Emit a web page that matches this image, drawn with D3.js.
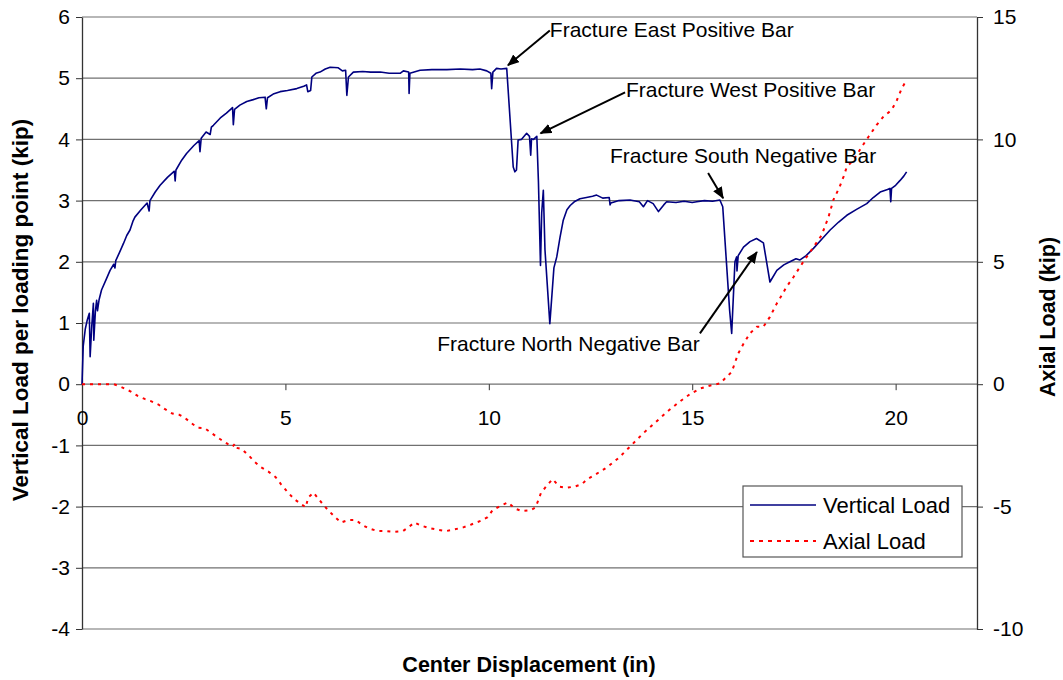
<!DOCTYPE html>
<html><head><meta charset="utf-8">
<script src="https://cdn.jsdelivr.net/npm/d3@7"></script>
<style>
body{margin:0;background:#fff}
text{font-family:"Liberation Sans",Arial,sans-serif;fill:#000}
</style>
</head><body><svg id="c" width="1063" height="680"></svg>
<script>
// ---------- data ----------
const xTicks = [0, 5, 10, 15, 20];
const yLeftTicks = [-4, -3, -2, -1, 0, 1, 2, 3, 4, 5, 6];
const yRightTicks = [-10, -5, 0, 5, 10, 15];

// Vertical load (kip) vs center displacement (in)
const vertDisp = [0,0.03,0.08,0.13,0.18,0.2,0.24,0.28,0.29,0.33,0.36,0.38,0.42,0.48,0.6,0.69,0.78,0.81,0.83,0.92,1.02,1.1,1.18,1.25,1.3,1.45,1.6,1.65,1.67,1.8,1.92,2.1,2.27,2.29,2.31,2.45,2.57,2.75,2.88,2.9,2.93,3.05,3.15,3.18,3.23,3.4,3.55,3.7,3.72,3.75,3.88,4.05,4.21,4.35,4.5,4.53,4.56,4.7,4.87,5.05,5.28,5.45,5.52,5.55,5.62,5.65,5.75,5.85,5.98,6.1,6.3,6.4,6.48,6.51,6.55,6.67,6.9,7.1,7.33,7.55,7.82,7.9,8.03,8.04,8.06,8.31,8.6,8.97,9.3,9.6,9.78,9.95,10.05,10.07,10.1,10.19,10.3,10.44,10.6,10.64,10.68,10.72,10.8,10.93,11.0,11.03,11.05,11.1,11.18,11.22,11.27,11.3,11.34,11.38,11.5,11.6,11.67,11.75,11.83,11.92,12.0,12.1,12.24,12.4,12.55,12.65,12.8,12.96,12.98,13.0,13.2,13.47,13.7,13.8,13.9,14.04,14.17,14.3,14.37,14.6,14.8,15.0,15.11,15.3,15.5,15.68,15.75,15.92,15.97,16.05,16.09,16.1,16.13,16.26,16.42,16.58,16.75,16.91,17.08,17.25,17.4,17.55,17.65,17.8,17.98,18.2,18.39,18.6,18.8,19.05,19.29,19.45,19.62,19.8,19.86,19.88,19.9,20.0,20.11,20.2,20.27];
const vertLoad = [0,0.62,0.9,1.05,1.16,0.45,0.95,1.32,0.72,1.2,1.37,1.2,1.38,1.54,1.72,1.86,1.96,1.9,2.02,2.15,2.3,2.43,2.52,2.66,2.73,2.85,2.96,2.83,3.0,3.14,3.25,3.38,3.48,3.32,3.5,3.66,3.77,3.9,3.98,3.8,4.02,4.12,4.08,4.2,4.23,4.35,4.43,4.52,4.24,4.49,4.56,4.62,4.65,4.68,4.69,4.5,4.68,4.74,4.78,4.8,4.83,4.87,4.89,4.78,4.8,5.02,5.08,5.1,5.15,5.18,5.17,5.12,5.13,4.72,5.02,5.1,5.11,5.1,5.1,5.08,5.08,5.12,5.1,4.75,5.08,5.13,5.14,5.14,5.15,5.14,5.15,5.12,5.08,4.83,5.1,5.16,5.15,5.16,3.55,3.47,3.5,3.99,4.0,4.1,4.05,3.74,4.01,4.0,4.05,3.3,1.94,2.8,3.17,2.2,0.99,1.9,2.08,2.4,2.68,2.85,2.92,2.98,3.03,3.05,3.07,3.09,3.04,3.05,2.93,2.96,3.0,3.01,2.98,2.9,3.0,2.95,2.82,2.93,2.98,2.97,2.99,2.97,2.98,3.0,2.99,3.01,2.9,1.2,0.83,2.0,2.08,1.85,2.1,2.24,2.33,2.38,2.31,1.67,1.86,1.95,2.0,2.05,2.03,2.1,2.22,2.38,2.52,2.65,2.76,2.86,2.95,3.05,3.14,3.18,3.2,2.98,3.2,3.25,3.33,3.4,3.47];

// Axial load (kip) vs center displacement (in)
const axialDisp = [0,0.31,0.78,0.95,1.2,1.37,1.54,1.68,1.88,2.02,2.22,2.39,2.51,2.68,2.85,3.02,3.17,3.4,3.59,3.7,3.76,3.8,3.93,4.12,4.25,4.39,4.59,4.76,4.89,5.05,5.22,5.39,5.5,5.56,5.69,5.82,5.96,6.07,6.22,6.37,6.54,6.73,6.89,7.04,7.26,7.47,7.65,7.89,8.02,8.17,8.34,8.54,8.76,8.95,9.16,9.37,9.57,9.8,9.97,10.09,10.27,10.47,10.64,10.81,11.02,11.15,11.28,11.43,11.57,11.73,11.91,12.12,12.29,12.42,12.63,12.9,13.2,13.5,13.8,14.1,14.4,14.7,14.95,15.19,15.45,15.68,15.97,16.13,16.26,16.42,16.59,16.75,16.91,17.08,17.2,17.32,17.49,17.73,17.98,18.18,18.35,18.47,18.62,18.72,18.8,18.96,19.17,19.33,19.53,19.7,19.9,20.03,20.15,20.27];
const axialLoad = [0,0,0,-0.1,-0.3,-0.48,-0.6,-0.68,-0.83,-1.0,-1.2,-1.25,-1.35,-1.58,-1.78,-1.8,-1.98,-2.25,-2.45,-2.55,-2.43,-2.6,-2.65,-2.95,-3.18,-3.38,-3.58,-3.8,-4.08,-4.4,-4.7,-4.9,-5.03,-4.63,-4.43,-4.7,-4.98,-5.18,-5.43,-5.65,-5.55,-5.55,-5.75,-5.88,-6.0,-6.0,-6.03,-6.0,-5.85,-5.65,-5.78,-5.88,-5.95,-6.0,-5.93,-5.85,-5.73,-5.58,-5.43,-5.15,-4.98,-4.83,-5.08,-5.18,-5.15,-5.03,-4.45,-4.13,-3.88,-4.18,-4.23,-4.18,-4.08,-3.88,-3.68,-3.4,-3.0,-2.5,-2.0,-1.55,-1.1,-0.7,-0.4,-0.18,-0.05,0.03,0.5,1.25,1.65,2.08,2.35,2.35,2.75,3.3,3.63,3.98,4.38,5.0,5.6,6.08,6.83,7.53,8.05,8.48,8.88,9.15,9.7,10.1,10.58,10.93,11.2,11.6,12.08,12.43];

const seriesNames = ["Vertical Load", "Axial Load"];
const annLabels = ["Fracture East Positive Bar", "Fracture West Positive Bar", "Fracture South Negative Bar", "Fracture North Negative Bar"];
// [text x, text y (baseline), arrow tail x, tail y, arrow tip x, tip y] in data units (in, kip-left)
const annAnchors = [
  [11.50, 5.67, 11.50, 5.78, 10.47, 5.21],
  [13.37, 4.69, 13.35, 4.77, 11.27, 4.10],
  [12.98, 3.61, 15.39, 3.45, 15.76, 3.04],
  [8.73, 0.54, 15.19, 0.83, 16.59, 2.16]
];

// ---------- chart ----------
const svg = d3.select("#c");
const x = d3.scaleLinear().domain([0, 22]).range([82, 977]);
const yL = d3.scaleLinear().domain([-4, 6]).range([629, 17]);
const yR = d3.scaleLinear().domain([-10, 15]).range([629, 17]);
const fmt = d => String(d);

// gridlines
svg.append("g").selectAll("line").data(yLeftTicks).join("line")
  .attr("x1", x(0)).attr("x2", x(22))
  .attr("y1", d => yL(d)).attr("y2", d => yL(d))
  .attr("stroke", "#707070").attr("stroke-width", 1.2);

const fs = 21;
// left axis
const gl = svg.append("g").attr("transform", `translate(${x(0)},0)`)
  .call(d3.axisLeft(yL).tickValues(yLeftTicks).tickFormat(fmt).tickSize(6).tickSizeOuter(0).tickPadding(6));
// right axis
const gr = svg.append("g").attr("transform", `translate(${x(22)},0)`)
  .call(d3.axisRight(yR).tickValues(yRightTicks).tickFormat(fmt).tickSize(6).tickSizeOuter(0).tickPadding(10));
// x axis at y=0
const gx = svg.append("g").attr("transform", `translate(0,${yL(0)})`)
  .call(d3.axisBottom(x).tickValues(xTicks).tickFormat(fmt).tickSize(6).tickSizeOuter(0).tickPadding(20));
gx.select(".domain").remove();
[gl, gr, gx].forEach(g => {
  g.selectAll("text").attr("font-size", fs).attr("font-family", '"Liberation Sans",Arial,sans-serif');
  g.selectAll("line").attr("stroke", "#333");
  g.select(".domain").attr("stroke", "#333").attr("stroke-width", 1.3);
});

// lines
const vLine = d3.line().x(i => x(vertDisp[i])).y(i => yL(vertLoad[i]));
svg.append("path").attr("d", vLine(d3.range(vertDisp.length)))
  .attr("fill", "none").attr("stroke", "#000080").attr("stroke-width", 1.6).attr("stroke-linejoin", "round");
const aLine = d3.line().x(i => x(axialDisp[i])).y(i => yR(axialLoad[i]));
svg.append("path").attr("d", aLine(d3.range(axialDisp.length)))
  .attr("fill", "none").attr("stroke", "#ff0000").attr("stroke-width", 2).attr("stroke-dasharray", "3,5");

// arrow marker
svg.append("defs").append("marker").attr("id", "arr")
  .attr("viewBox", "0 0 12 10").attr("refX", 11).attr("refY", 5)
  .attr("markerWidth", 12).attr("markerHeight", 10).attr("markerUnits", "userSpaceOnUse")
  .attr("orient", "auto")
  .append("path").attr("d", "M0,0 L12,5 L0,10 Z").attr("fill", "#000");

// annotations
annLabels.forEach((t, i) => {
  const a = annAnchors[i];
  svg.append("line")
    .attr("x1", x(a[2])).attr("y1", yL(a[3]))
    .attr("x2", x(a[4])).attr("y2", yL(a[5]))
    .attr("stroke", "#000").attr("stroke-width", 2).attr("marker-end", "url(#arr)");
  svg.append("text").attr("x", x(a[0])).attr("y", yL(a[1]))
    .attr("font-size", fs).text(t);
});

// axis titles
svg.append("text").attr("x", 529).attr("y", 672).attr("text-anchor", "middle")
  .attr("font-size", 21.5).attr("font-weight", "bold").text("Center Displacement (in)");
svg.append("text").attr("transform", "translate(28,310) rotate(-90)").attr("text-anchor", "middle")
  .attr("font-size", 22.5).attr("font-weight", "bold").text("Vertical Load per loading point (kip)");
svg.append("text").attr("transform", "translate(1055,317) rotate(-90)").attr("text-anchor", "middle")
  .attr("font-size", 21.5).attr("font-weight", "bold").text("Axial Load (kip)");

// legend
const lg = svg.append("g").attr("transform", "translate(743,486)");
lg.append("rect").attr("width", 219).attr("height", 71).attr("fill", "#fff").attr("stroke", "#555").attr("stroke-width", 1.2);
lg.append("line").attr("x1", 7).attr("x2", 73).attr("y1", 19).attr("y2", 19).attr("stroke", "#000080").attr("stroke-width", 1.6);
lg.append("line").attr("x1", 7).attr("x2", 73).attr("y1", 55).attr("y2", 55).attr("stroke", "#ff0000").attr("stroke-width", 2).attr("stroke-dasharray", "4,5");
lg.append("text").attr("x", 80).attr("y", 27).attr("font-size", 22).text(seriesNames[0]);
lg.append("text").attr("x", 80).attr("y", 63).attr("font-size", 22).text(seriesNames[1]);
</script></body></html>
